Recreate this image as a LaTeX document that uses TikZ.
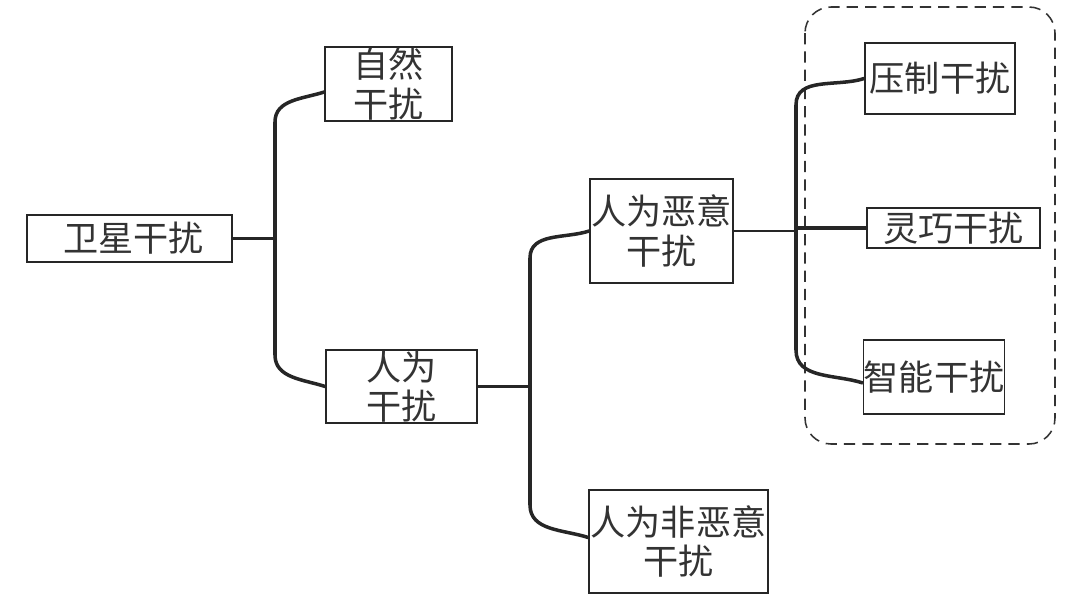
\documentclass[tikz,border=0pt]{standalone}
\usepackage{fontspec}
\newfontfamily\cjk{Noto Sans CJK SC}
\usepackage{tikz}
\tikzset{
  topicbox/.style={draw=black!85, line width=1.1pt, fill=white, inner sep=0pt,
                   font=\cjk\fontsize{25}{28}\selectfont, text=black!80, align=center},
  trunkline/.style={line width=3.5pt, black!85},
  branchline/.style={line width=2.5pt, black!85},
  linkline/.style={line width=2.3pt, black!85},
  thinlink/.style={line width=1.6pt, black!85},
  groupbox/.style={draw=black!80, line width=1.1pt, dash pattern=on 8pt off 5pt,
                   rounded corners=0.65cm}
}
\begin{document}
\begin{tikzpicture}[x=0.025cm, y=0.025cm]
    \useasboundingbox (0,0) rectangle (1080,-612);
    \def\xA{275} \def\xB{530} \def\xC{796}

    % dashed group
    \draw[groupbox] (805,-7) rectangle (1055,-444);

    % topics
    \node[topicbox, minimum width=5.125cm, minimum height=1.175cm] (root) at (129.5,-238.5) {\hspace{0.2cm}卫星干扰};
    \node[topicbox, minimum width=3.175cm, minimum height=1.85cm] (ziran) at (388.5,-84) {自然\\干扰};
    \node[topicbox, minimum width=3.775cm, minimum height=1.825cm] (renwei) at (401.5,-386.5) {人为\\干扰};
    \node[topicbox, minimum width=3.575cm, minimum height=2.6cm] (eyi) at (661.5,-231) {人为恶意\\干扰};
    \node[topicbox, minimum width=4.475cm, minimum height=2.575cm] (feieyi) at (678.5,-541.5) {人为非恶意\\干扰};
    \node[topicbox, minimum width=3.75cm, minimum height=1.775cm] (yazhi) at (940,-78.5) {压制干扰};
    \node[topicbox, minimum width=4.325cm, minimum height=1.0cm] (lingqiao) at (953.5,-228) {灵巧干扰};
    \node[topicbox, minimum width=3.4cm, minimum height=1.85cm] (zhineng) at (934,-377) {智能干扰};

    \coordinate (jA) at (\xA,0);
    \coordinate (jB) at (\xB,0);
    \coordinate (jC) at (\xC,0);

    % level 1
    \draw[linkline] (root.east) -- (root.east -| jA);
    \draw[branchline] ([yshift=-0.2cm]ziran.west) to[out=198,in=90] (\xA,-122)
      -- (\xA,-355) to[out=-90,in=162] (renwei.west);
    \draw[trunkline] (\xA,-122) -- (\xA,-355);

    % level 2
    \draw[linkline] (renwei.east) -- (renwei.east -| jB);
    \draw[branchline] (eyi.west) to[out=198,in=90] (\xB,-258)
      -- (\xB,-505) to[out=-90,in=162] ([yshift=0.1cm]feieyi.west);
    \draw[trunkline] (\xB,-258) -- (\xB,-505);

    % level 3
    \draw[thinlink] (eyi.east) -- (eyi.east -| jC);
    \draw[branchline] (yazhi.west) to[out=198,in=90] (\xC,-105)
      -- (\xC,-350) to[out=-90,in=162] ([yshift=-0.15cm]zhineng.west);
    \draw[trunkline] (\xC,-105) -- (\xC,-350);
    \draw[trunkline] (lingqiao.west -| jC) -- (lingqiao.west);
\end{tikzpicture}
\end{document}
